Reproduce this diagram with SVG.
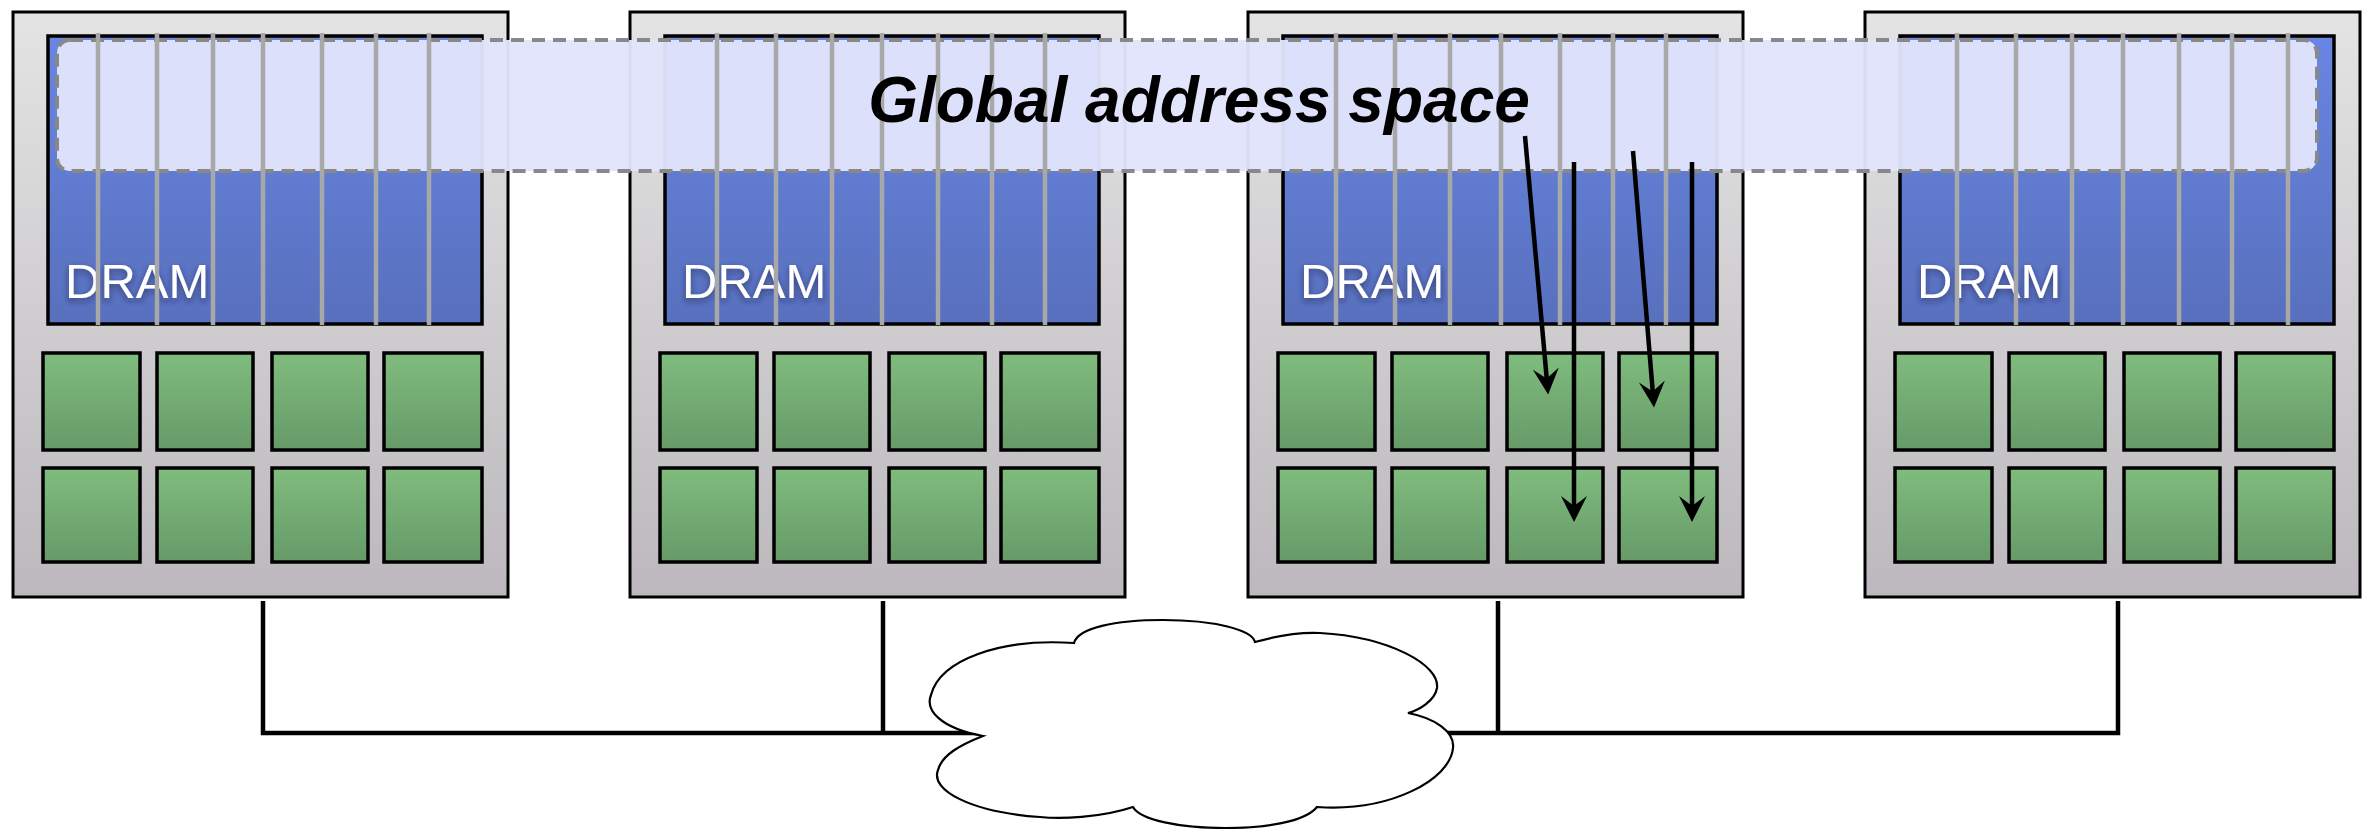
<svg xmlns="http://www.w3.org/2000/svg" width="2366" height="829" viewBox="0 0 2366 829">
  <defs>
    <linearGradient id="gNode" x1="0" y1="0" x2="0" y2="1">
      <stop offset="0" stop-color="#e4e4e4"/>
      <stop offset="1" stop-color="#bcb8bd"/>
    </linearGradient>
    <linearGradient id="gDram" x1="0" y1="0" x2="0" y2="1">
      <stop offset="0" stop-color="#6886e2"/>
      <stop offset="1" stop-color="#5870bd"/>
    </linearGradient>
    <linearGradient id="gCore" x1="0" y1="0" x2="0" y2="1">
      <stop offset="0" stop-color="#80bc7e"/>
      <stop offset="1" stop-color="#669a68"/>
    </linearGradient>
    <filter id="textShadow" x="-20%" y="-40%" width="140%" height="180%">
      <feDropShadow dx="0" dy="3" stdDeviation="3" flood-color="#1a2340" flood-opacity="0.6"/>
    </filter>
    <marker id="arrowHead" markerUnits="userSpaceOnUse" viewBox="-28 -15 30 30" refX="-14" refY="0" markerWidth="30" markerHeight="30" orient="auto">
      <path d="M0,0 L-26,-13 L-16,0 L-26,13 Z" fill="#000"/>
    </marker>
    <!-- one compute node: case, DRAM bank, 2x4 cores -->
    <g id="nodeBody">
      <rect class="case" x="0" y="0" width="495" height="585"/>
      <rect class="dram" x="35" y="24" width="434" height="288"/>
      <text class="dram-label" x="52" y="286">DRAM</text>
      <rect class="core" x="30" y="341" width="97" height="97"/>
      <rect class="core" x="144" y="341" width="96" height="97"/>
      <rect class="core" x="259" y="341" width="96" height="97"/>
      <rect class="core" x="371" y="341" width="98" height="97"/>
      <rect class="core" x="30" y="456" width="97" height="94"/>
      <rect class="core" x="144" y="456" width="96" height="94"/>
      <rect class="core" x="259" y="456" width="96" height="94"/>
      <rect class="core" x="371" y="456" width="98" height="94"/>
    </g>
  </defs>
  <style>
    .case { fill: url(#gNode); stroke: #000; stroke-width: 3; }
    .dram { fill: url(#gDram); stroke: #000; stroke-width: 3.5; }
    .core { fill: url(#gCore); stroke: #000; stroke-width: 3.5; }
    .dram-label { font-family: "Liberation Sans", Arial, sans-serif; font-size: 49px; fill: #fff; filter: url(#textShadow); }
    .column { stroke: #a8a8a8; stroke-width: 4.5; fill: none; }
    .wire { stroke: #000; stroke-width: 4.5; fill: none; stroke-linejoin: miter; }
    .access { stroke: #000; stroke-width: 4.5; fill: none; marker-end: url(#arrowHead); }
    .band { fill: #e1e4fb; fill-opacity: 0.96; stroke: #888; stroke-width: 4; stroke-dasharray: 13 8; }
    .band-label { font-family: "Liberation Sans", Arial, sans-serif; font-size: 64px; font-weight: bold; font-style: italic; fill: #000; }
    .cloud { fill: #fff; stroke: #000; stroke-width: 2.2; }
  </style>

  <rect width="2366" height="829" fill="#fff"/>

  <g id="node1"><use href="#nodeBody" transform="translate(13,12)"/></g>
  <g id="node2"><use href="#nodeBody" transform="translate(630,12)"/></g>
  <g id="node3"><use href="#nodeBody" transform="translate(1248,12)"/></g>
  <g id="node4"><use href="#nodeBody" transform="translate(1865,12)"/></g>

  <g id="connectors">
    <path class="wire" d="M263,601 V733 H995"/>
    <path class="wire" d="M883,601 V733"/>
    <path class="wire" d="M1498,601 V733"/>
    <path class="wire" d="M1420,733 H2118 V601"/>
  </g>

  <g id="network">
    <path class="cloud" d="M983,736 C940,728 925,710 931,695 C940,660 1000,638 1074,643 C1078,628 1115,620 1163,620 C1215,620 1252,630 1255,642 C1280,635 1300,632 1320,633 C1390,637 1440,665 1437,688 C1435,700 1420,710 1408,713 C1435,718 1455,732 1453,748 C1450,780 1390,812 1317,807 C1305,822 1265,828 1225,828 C1180,828 1140,820 1133,807 C1100,818 1060,819 1040,817 C970,812 930,790 938,770 C942,755 960,745 983,736 Z"/>
  </g>

  <g id="global-address-space">
    <rect class="band" x="57" y="40" width="2260" height="131" rx="13"/>
  </g>

  <g id="memory-columns">
    <path class="column" d="M98,33V325 M157,33V325 M213,33V325 M263,33V325 M322,33V325 M376,33V325 M429,33V325"/>
    <path class="column" d="M717,33V325 M776,33V325 M832,33V325 M882,33V325 M938,33V325 M992,33V325 M1045,33V325"/>
    <path class="column" d="M1336,33V325 M1395,33V325 M1450,33V325 M1501,33V325 M1560,33V325 M1613,33V325 M1666,33V325"/>
    <path class="column" d="M1957,33V325 M2016,33V325 M2072,33V325 M2123,33V325 M2179,33V325 M2232,33V325 M2288,33V325"/>
  </g>

  <text class="band-label" x="1199" y="122" text-anchor="middle">Global address space</text>

  <g id="accesses">
    <path class="access" d="M1525,136 L1546.9,380.5"/>
    <path class="access" d="M1574,162 L1574,508"/>
    <path class="access" d="M1633,151 L1652.9,393.5"/>
    <path class="access" d="M1692,162 L1692,508"/>
  </g>
</svg>
